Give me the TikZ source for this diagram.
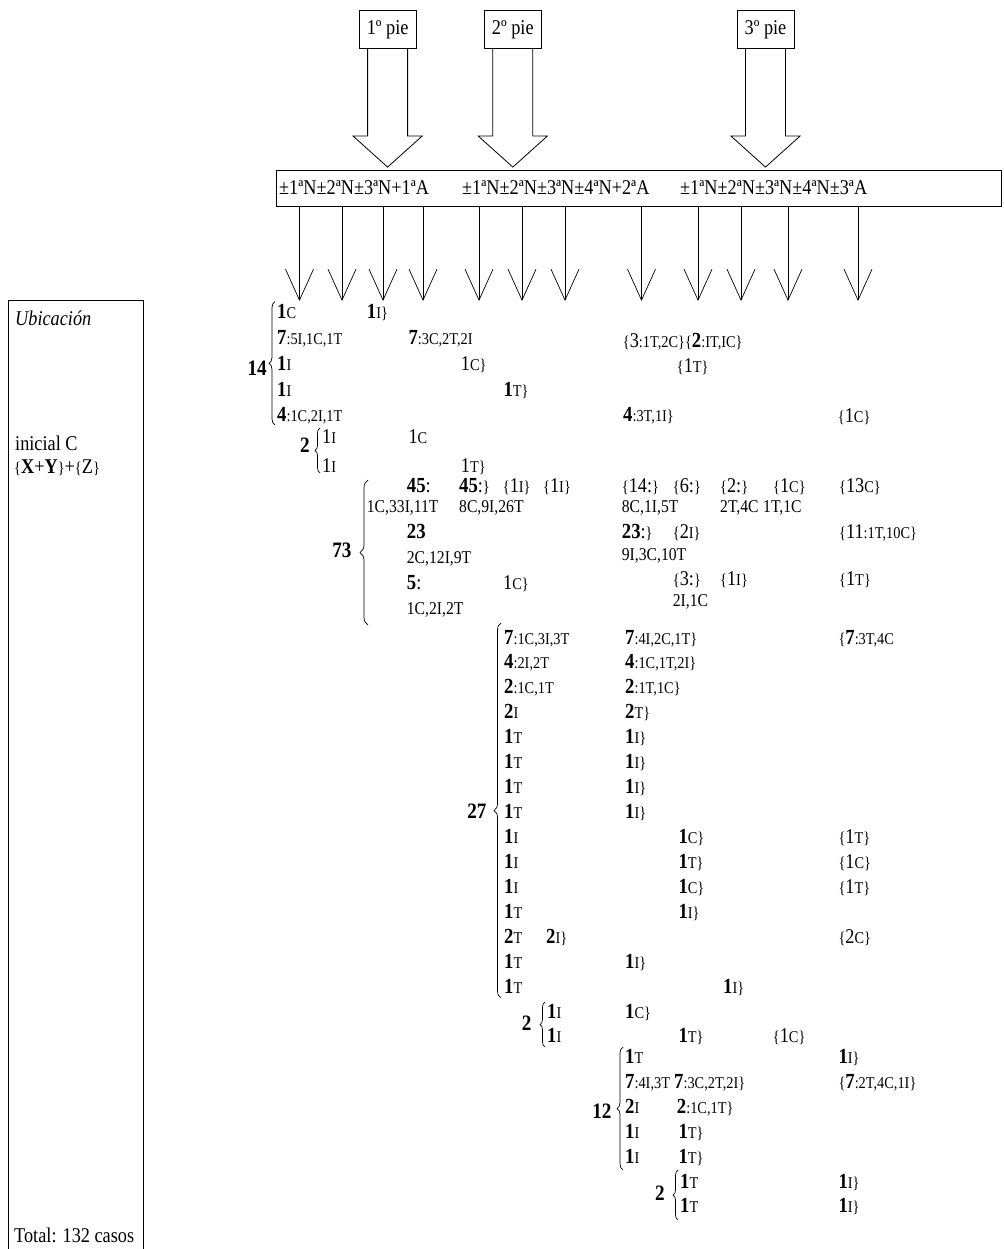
\documentclass[tikz,border=0pt]{standalone}
\usepackage{fontspec}
\setmainfont[FakeStretch=0.87]{Liberation Serif}
\usetikzlibrary{arrows.meta,decorations.pathreplacing,calc}
\newcommand\numB[1]{{\fontsize{21.5}{21.5}\selectfont\bfseries #1}}
\newcommand\numR[1]{{\fontsize{21}{21}\selectfont #1}}
\newcommand\smt[1]{{\fontsize{16.5}{16.5}\selectfont #1}}
\newcommand\mdt[1]{{\fontsize{18}{18}\selectfont #1}}
\begin{document}
\begin{tikzpicture}[x=1pt,y=-1pt,
  t/.style={anchor=base west,inner sep=0pt,font=\fontsize{21}{21}\selectfont},
  lab/.style={anchor=base east,inner sep=0pt,font=\fontsize{22}{22}\selectfont\bfseries},
  pie/.style={draw,line width=0.8pt,minimum width=57pt,minimum height=37.6pt,inner sep=0pt,font=\fontsize{21}{21}\selectfont},
  brc/.style={decorate,decoration={brace,amplitude=#1},line width=0.7pt},
  sarr/.style={-{Straight Barb[length=31pt,width=28pt]},line width=0.7pt},
  big/.style={line width=0.8pt,line join=miter}]
\useasboundingbox (0,0) rectangle (1003,1249);
% header
\node[pie] (p1) at (387.6,29.5) {1º pie};
\node[pie] (p2) at (512.8,29.5) {2º pie};
\node[pie] (p3) at (765.5,29.5) {3º pie};
\node[draw,line width=0.8pt,minimum width=725pt,minimum height=36.5pt,anchor=north west,inner sep=0pt] (bar) at (276,170) {};
\node[t] (h1) at (279,195) {±1ªN±2ªN±3ªN+1ªA};
\node[t] (h2) at (462,195) {±1ªN±2ªN±3ªN±4ªN+2ªA};
\node[t] (h3) at (680,195) {±1ªN±2ªN±3ªN±4ªN±3ªA};
\foreach \p in {p1,p2,p3}{
  \draw[big] ($(\p.south)+(-20,0)$) -- ($(\p.south)+(-20,87.4)$) -- ($(\p.south)+(-34.5,87.4)$)
    -- ($(\p.south)+(0,118.4)$) -- ($(\p.south)+(34.5,87.4)$) -- ($(\p.south)+(20,87.4)$) -- ($(\p.south)+(20,0)$);
}
\foreach \i/\x in {1/299.5,2/342,3/383,4/423,5/479,6/522,7/565,8/641.5,9/698,10/741,11/788,12/858}{
  \coordinate (s\i) at (\x,301);
  \draw[sarr] (bar.south -| s\i) -- (s\i);
}
% left box
\draw[line width=0.8pt] (8,1252) -- (8,300.7) -- (143.3,300.7) -- (143.3,1252);
\node[t] (ub) at (15,325.3) {\itshape Ubicación};
\node[t] (ini) at (15,450.3) {inicial C};
\node[t] (xyz) at (14,473.7) {\smt{\{}\textbf{X}+\textbf{Y}\smt{\}}+\smt{\{}Z\smt{\}}};
\node[t] (tot) at (14,1242.5) {Total: 132 casos};
% group 14
\draw[brc=6pt] (275,425) -- (275,301.7);
\node[lab] (L14) at (267,375) {14};
\node[t] (a0) at (277,318.7) {\numB{1}\smt{C}};
\node[t] (a1) at (277,344.5) {\numB{7}\smt{:5I,1C,1T}};
\node[t] (a2) at (277,370.3) {\numB{1}\smt{I}};
\node[t] (a3) at (277,396.1) {\numB{1}\smt{I}};
\node[t] (a4) at (277,421.9) {\numB{4}\smt{:1C,2I,1T}};
\node[t] (a5) at (366.7,318.7) {\numB{1}\smt{I\}}};
\node[t] (a6) at (408.3,344.5) {\numB{7}\smt{:3C,2T,2I}};
\node[t] (a7) at (622.7,347) {\smt{\{}\numR{3}\smt{:1T,2C\}\{}\numB{2}\smt{:IT,IC\}}};
\node[t] (a8) at (460.7,370.3) {\numR{1}\smt{C\}}};
\node[t] (a9) at (676.7,372) {\smt{\{}\numR{1}\smt{T\}}};
\node[t] (a10) at (503.3,396.1) {\numB{1}\smt{T\}}};
\node[t] (a11) at (623,421.9) {\numB{4}\smt{:3T,1I\}}};
\node[t] (a12) at (837.7,422) {\smt{\{}\numR{1}\smt{C\}}};
% group 2a
\draw[brc=5pt] (320,473) -- (320,428);
\node[lab] (L2a) at (310,452) {2};
\node[t] (b0) at (322,443.7) {\numR{1}\smt{I}};
\node[t] (b1) at (322,472) {\numR{1}\smt{I}};
\node[t] (b2) at (408.3,443.7) {\numR{1}\smt{C}};
\node[t] (b3) at (460.7,472) {\numR{1}\smt{T\}}};
% group 73
\draw[brc=8pt] (368,625) -- (368,480);
\node[lab] (L73) at (351.7,557) {73};
\node[t] (c0) at (406.7,492) {\numB{45}\numR{:}};
\node[t] (c1) at (459,492) {\numB{45}\numR{:}\smt{\}}};
\node[t] (c2) at (502.7,492) {\smt{\{}\numR{1}\smt{I\}}};
\node[t] (c3) at (543,492) {\smt{\{}\numR{1}\smt{I\}}};
\node[t] (c4) at (621.7,492) {\smt{\{}\numR{14:}\smt{\}}};
\node[t] (c5) at (672.7,492) {\smt{\{}\numR{6:}\smt{\}}};
\node[t] (c6) at (720,492) {\smt{\{}\numR{2:}\smt{\}}};
\node[t] (c7) at (773,492) {\smt{\{}\numR{1}\smt{C\}}};
\node[t] (c8) at (839,492) {\smt{\{}\numR{13}\smt{C\}}};
\node[t] (c9) at (366.7,512) {\mdt{1C,33I,11T}};
\node[t] (c10) at (459,512) {\mdt{8C,9I,26T}};
\node[t] (c11) at (621.7,512) {\mdt{8C,1I,5T}};
\node[t] (c12) at (720,512) {\mdt{2T,4C}};
\node[t] (c13) at (763,512) {\mdt{1T,1C}};
\node[t] (c14) at (406.7,538) {\numB{23}};
\node[t] (c15) at (621.7,538) {\numB{23}\numR{:}\smt{\}}};
\node[t] (c16) at (672.7,538) {\smt{\{}\numR{2}\smt{I\}}};
\node[t] (c17) at (839,538) {\smt{\{}\numR{11}\smt{:1T,10C\}}};
\node[t] (c18) at (406.7,563) {\mdt{2C,12I,9T}};
\node[t] (c19) at (621.7,560) {\mdt{9I,3C,10T}};
\node[t] (c20) at (406.7,589) {\numB{5}\numR{:}};
\node[t] (c21) at (503,589) {\numR{1}\smt{C\}}};
\node[t] (c22) at (672.7,585) {\smt{\{}\numR{3:}\smt{\}}};
\node[t] (c23) at (720,585) {\smt{\{}\numR{1}\smt{I\}}};
\node[t] (c24) at (839,585) {\smt{\{}\numR{1}\smt{T\}}};
\node[t] (c25) at (406.7,614) {\mdt{1C,2I,2T}};
\node[t] (c26) at (672.7,606) {\mdt{2I,1C}};
% group 27
\draw[brc=7pt] (501,998) -- (501,623);
\node[lab] (L27) at (486.7,818.7) {27};
\foreach \i/\txt in {0/{\numB{7}\smt{:1C,3I,3T}},1/{\numB{4}\smt{:2I,2T}},2/{\numB{2}\smt{:1C,1T}},3/{\numB{2}\smt{I}},
  4/{\numB{1}\smt{T}},5/{\numB{1}\smt{T}},6/{\numB{1}\smt{T}},7/{\numB{1}\smt{T}},8/{\numB{1}\smt{I}},9/{\numB{1}\smt{I}},
  10/{\numB{1}\smt{I}},11/{\numB{1}\smt{T}},12/{\numB{2}\smt{T}},13/{\numB{1}\smt{T}},14/{\numB{1}\smt{T}}}{
  \node[t] (d\i) at (504,644+24.95*\i) {\txt};
}
\node[t] (dB0) at (625,644) {\numB{7}\smt{:4I,2C,1T\}}};
\node[t] (dB1) at (625,668.95) {\numB{4}\smt{:1C,1T,2I\}}};
\node[t] (dB2) at (625,693.9) {\numB{2}\smt{:1T,1C\}}};
\node[t] (dB3) at (625,718.85) {\numB{2}\smt{T\}}};
\node[t] (dB4) at (625,743.8) {\numB{1}\smt{I\}}};
\node[t] (dB5) at (625,768.75) {\numB{1}\smt{I\}}};
\node[t] (dB6) at (625,793.7) {\numB{1}\smt{I\}}};
\node[t] (dB7) at (625,818.65) {\numB{1}\smt{I\}}};
\node[t] (dB13) at (625,968.35) {\numB{1}\smt{I\}}};
\node[t] (dC8) at (678.3,843.6) {\numB{1}\smt{C\}}};
\node[t] (dC9) at (678.3,868.55) {\numB{1}\smt{T\}}};
\node[t] (dC10) at (678.3,893.5) {\numB{1}\smt{C\}}};
\node[t] (dC11) at (678.3,918.45) {\numB{1}\smt{I\}}};
\node[t] (dE12) at (546,943.4) {\numB{2}\smt{I\}}};
\node[t] (dF14) at (723,993.3) {\numB{1}\smt{I\}}};
\node[t] (dD0) at (838.3,644) {\smt{\{}\numB{7}\smt{:3T,4C}};
\node[t] (dD8) at (838.3,843.6) {\smt{\{}\numR{1}\smt{T\}}};
\node[t] (dD9) at (838.3,868.55) {\smt{\{}\numR{1}\smt{C\}}};
\node[t] (dD10) at (838.3,893.5) {\smt{\{}\numR{1}\smt{T\}}};
\node[t] (dD12) at (838.3,943.4) {\smt{\{}\numR{2}\smt{C\}}};
% group 2b
\draw[brc=5pt] (545,1047) -- (545,1002);
\node[lab] (L2b) at (531.7,1030.3) {2};
\node[t] (e0) at (547,1018.7) {\numB{1}\smt{I}};
\node[t] (e1) at (547,1042) {\numB{1}\smt{I}};
\node[t] (e2) at (625,1018.7) {\numB{1}\smt{C\}}};
\node[t] (e3) at (678.3,1042) {\numB{1}\smt{T\}}};
\node[t] (e4) at (772.7,1042) {\smt{\{}\numR{1}\smt{C\}}};
% group 12
\draw[brc=6pt] (623,1170) -- (623,1047);
\node[lab] (L12) at (611.7,1118.7) {12};
\node[t] (f0) at (625,1063) {\numB{1}\smt{T}};
\node[t] (f1) at (625,1088) {\numB{7}\smt{:4I,3T}};
\node[t] (f2) at (625,1113) {\numB{2}\smt{I}};
\node[t] (f3) at (625,1138) {\numB{1}\smt{I}};
\node[t] (f4) at (625,1163) {\numB{1}\smt{I}};
\node[t] (f5) at (838.3,1063) {\numB{1}\smt{I\}}};
\node[t] (f6) at (674,1088) {\numB{7}\smt{:3C,2T,2I\}}};
\node[t] (f7) at (838.3,1088) {\smt{\{}\numB{7}\smt{:2T,4C,1I\}}};
\node[t] (f8) at (676.7,1113) {\numB{2}\smt{:1C,1T\}}};
\node[t] (f9) at (678.3,1138) {\numB{1}\smt{T\}}};
\node[t] (f10) at (678.3,1163) {\numB{1}\smt{T\}}};
% group 2c
\draw[brc=5pt] (678,1220) -- (678,1170);
\node[lab] (L2c) at (665,1200.3) {2};
\node[t] (g0) at (680,1188.7) {\numB{1}\smt{T}};
\node[t] (g1) at (680,1212) {\numB{1}\smt{T}};
\node[t] (g2) at (838.3,1188.7) {\numB{1}\smt{I\}}};
\node[t] (g3) at (838.3,1212) {\numB{1}\smt{I\}}};
\end{tikzpicture}
\end{document}
